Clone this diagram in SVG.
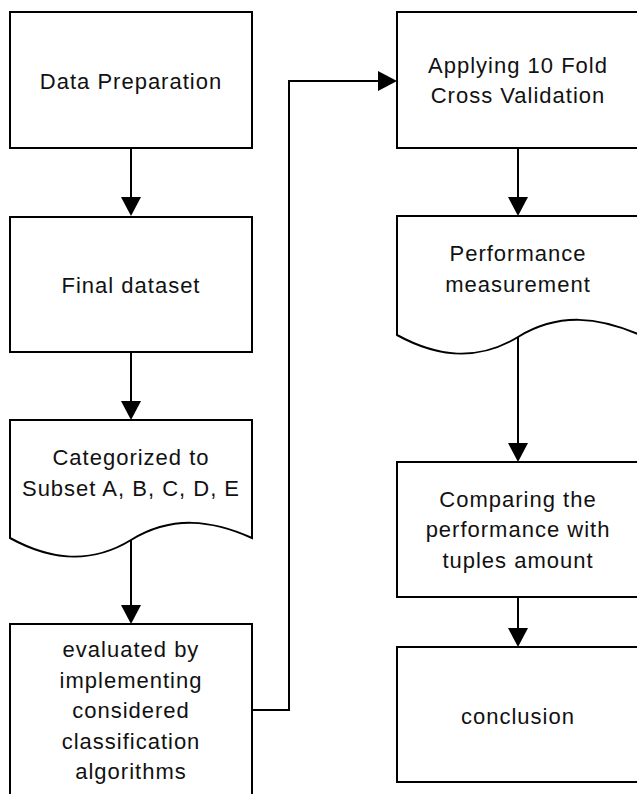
<svg xmlns="http://www.w3.org/2000/svg" width="637" height="794" viewBox="0 0 637 794">
  <style>
    .box { fill: #ffffff; stroke: #000000; stroke-width: 2; }
    .conn { fill: none; stroke: #000000; stroke-width: 2; }
    .lbl { font-family: "Liberation Sans", Arial, sans-serif; font-size: 22px; letter-spacing: 1px; fill: #111111; text-anchor: middle; }
  </style>
  <defs>
    <marker id="arrow" markerUnits="userSpaceOnUse" markerWidth="20" markerHeight="20" viewBox="0 0 19 20" refX="0" refY="10" orient="auto">
      <path d="M0,0 L19,10 L0,20 Z" fill="#000000"/>
    </marker>
  </defs>
  <rect width="637" height="794" fill="#ffffff"/>

  <g id="connectors">
    <line class="conn" x1="131" y1="148" x2="131" y2="197" marker-end="url(#arrow)"/>
    <line class="conn" x1="131" y1="352" x2="131" y2="401" marker-end="url(#arrow)"/>
    <line class="conn" x1="131" y1="540" x2="131" y2="605" marker-end="url(#arrow)"/>
    <polyline class="conn" points="252,710 289,710 289,81 378,81" marker-end="url(#arrow)"/>
    <line class="conn" x1="518" y1="148" x2="518" y2="197" marker-end="url(#arrow)"/>
    <line class="conn" x1="518" y1="337" x2="518" y2="443" marker-end="url(#arrow)"/>
    <line class="conn" x1="518" y1="597" x2="518" y2="628" marker-end="url(#arrow)"/>
  </g>

  <g id="data-preparation">
    <rect class="box" x="10" y="12" width="242" height="136"/>
    <text class="lbl" x="131" y="89">Data Preparation</text>
  </g>

  <g id="final-dataset">
    <rect class="box" x="10" y="217" width="242" height="135"/>
    <text class="lbl" x="131" y="293">Final dataset</text>
  </g>

  <g id="categorized">
    <path class="box" d="M10,420 L252,420 L252,538 C212,520 172,515 131,540 C90,565 50,560 10,538 Z"/>
    <text class="lbl" x="131" y="465">Categorized to</text>
    <text class="lbl" x="131" y="496">Subset A, B, C, D, E</text>
  </g>

  <g id="evaluated">
    <rect class="box" x="10" y="624" width="242" height="190"/>
    <text class="lbl" x="131" y="657">evaluated by</text>
    <text class="lbl" x="131" y="688">implementing</text>
    <text class="lbl" x="131" y="718">considered</text>
    <text class="lbl" x="131" y="749">classification</text>
    <text class="lbl" x="131" y="779">algorithms</text>
  </g>

  <g id="cross-validation">
    <rect class="box" x="397" y="12" width="243" height="136"/>
    <text class="lbl" x="518" y="73">Applying 10 Fold</text>
    <text class="lbl" x="518" y="103">Cross Validation</text>
  </g>

  <g id="performance-measurement">
    <path class="box" d="M397,216 L640,216 L640,335 C599,317 559,312 518,337 C477,362 437,357 397,335 Z"/>
    <text class="lbl" x="518" y="261">Performance</text>
    <text class="lbl" x="518" y="292">measurement</text>
  </g>

  <g id="comparing">
    <rect class="box" x="397" y="462" width="243" height="135"/>
    <text class="lbl" x="518" y="507">Comparing the</text>
    <text class="lbl" x="518" y="537">performance with</text>
    <text class="lbl" x="518" y="568">tuples amount</text>
  </g>

  <g id="conclusion">
    <rect class="box" x="397" y="647" width="243" height="135"/>
    <text class="lbl" x="518" y="724">conclusion</text>
  </g>
</svg>
